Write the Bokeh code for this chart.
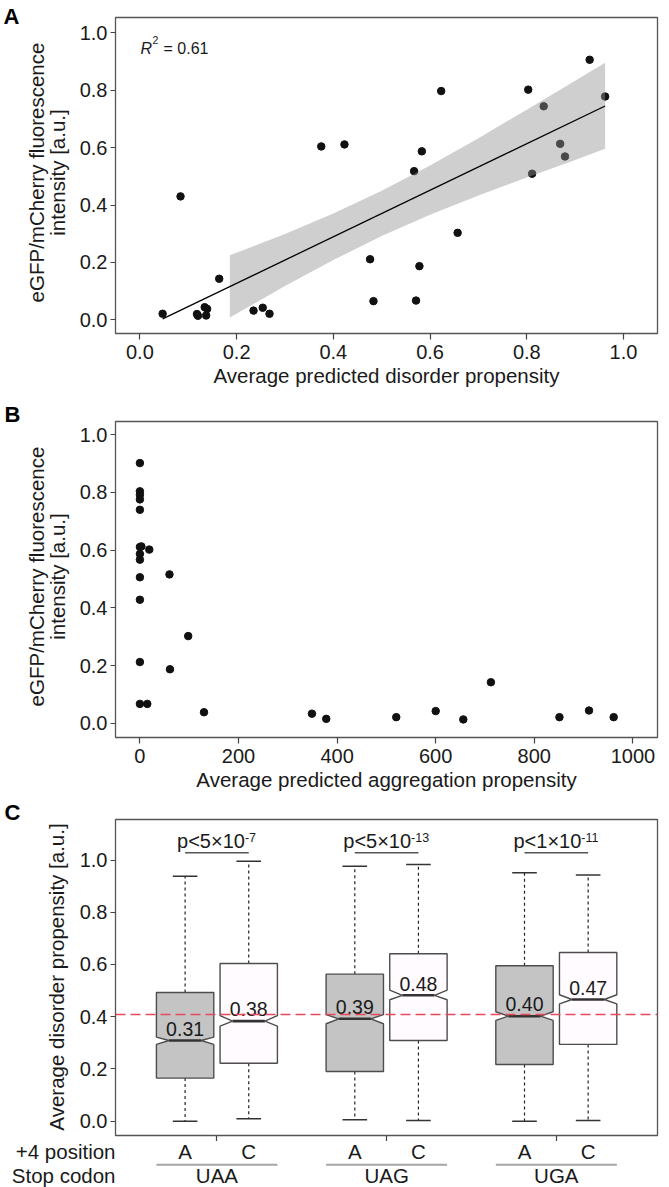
import numpy as np
from bokeh.plotting import figure
from bokeh.models import Range1d, Label, Span, FixedTicker, PrintfTickFormatter
from bokeh.layouts import column, row
from bokeh.embed import file_html
from bokeh.resources import INLINE
from bokeh.core.properties import value

FONT = "Liberation Sans"
TXT = "#1a1a1a"
MID = 0.3465  # distance (in em) from the em-box middle down to the alphabetic baseline

# ---------------- Panel A data ----------------
disorder_a = [0.047, 0.084, 0.118, 0.120, 0.134, 0.139, 0.137, 0.164, 0.235, 0.254,
              0.268, 0.375, 0.423, 0.476, 0.483, 0.567, 0.571, 0.578, 0.583, 0.623,
              0.657, 0.803, 0.811, 0.835, 0.869, 0.879, 0.930, 0.962]
fluor_a = [0.021, 0.430, 0.020, 0.014, 0.044, 0.038, 0.015, 0.143, 0.032, 0.042,
           0.021, 0.604, 0.611, 0.211, 0.065, 0.518, 0.067, 0.187, 0.587, 0.797,
           0.303, 0.802, 0.509, 0.744, 0.613, 0.569, 0.906, 0.778]
fit_x = [0.047, 0.962]
fit_y = [0.003, 0.745]
band_x = [0.186, 0.3, 0.4, 0.5, 0.6, 0.7, 0.8, 0.9, 0.962]
band_lower = [0.008, 0.118, 0.208, 0.292, 0.366, 0.433, 0.496, 0.557, 0.596]
band_upper = [0.225, 0.299, 0.370, 0.450, 0.538, 0.633, 0.732, 0.833, 0.896]
r2_value = "0.61"

# ---------------- Panel B data ----------------
aggregation_b = [0, 0, 0, 0, 0, 0, 3, 0, 0, 0, 0, 0, 0,
                 15, 19, 60, 61, 98, 130, 349, 378, 520, 600, 656, 712, 851, 911, 961]
fluor_b = [0.902, 0.804, 0.792, 0.776, 0.740, 0.611, 0.613, 0.587, 0.567, 0.506, 0.428, 0.212, 0.067,
           0.067, 0.602, 0.516, 0.187, 0.302, 0.038, 0.033, 0.015, 0.021, 0.042, 0.013, 0.142, 0.021, 0.044, 0.021]

# ---------------- Panel C data ----------------
stop_codons = ["UAA", "UAG", "UGA"]
pos4_letters = ["A", "C"]
whisker_low = [0.000, 0.009, 0.006, 0.003, 0.000, 0.003]
q1 = [0.165, 0.222, 0.190, 0.309, 0.217, 0.294]
notch_low = [0.294, 0.364, 0.373, 0.465, 0.386, 0.449]
medians = [0.309, 0.383, 0.392, 0.482, 0.402, 0.466]
notch_high = [0.322, 0.404, 0.408, 0.502, 0.419, 0.484]
q3 = [0.493, 0.604, 0.563, 0.641, 0.595, 0.646]
whisker_high = [0.938, 0.995, 0.976, 0.983, 0.951, 0.943]
median_labels = ["0.31", "0.38", "0.39", "0.48", "0.40", "0.47"]
p_base = ["p<5×10", "p<5×10", "p<1×10"]
p_exp = ["-7", "-13", "-11"]
overall_median = 0.4085

yticks = [0.0, 0.2, 0.4, 0.6, 0.8, 1.0]
STRIP_W = 75
MAIN_W = 669 - STRIP_W


def make_fig(h, top, bottom, xr, yr):
    p = figure(width=MAIN_W, height=h, x_range=Range1d(*xr), y_range=Range1d(*yr),
               output_backend="svg", toolbar_location=None, frame_align=False,
               min_border_left=40, min_border_right=12,
               min_border_top=top, min_border_bottom=bottom)
    p.title_location = None
    p.xgrid.visible = False
    p.ygrid.visible = False
    p.outline_line_color = "#555555"
    p.outline_line_width = 1.3
    p.outline_line_alpha = 1.0
    p.background_fill_color = "white"
    p.border_fill_color = "white"
    for ax in (p.xaxis[0], p.yaxis[0]):
        ax.axis_line_color = None
        ax.major_tick_line_color = "#444444"
        ax.major_tick_line_width = 1.2
        ax.major_tick_in = 0
        ax.minor_tick_line_color = None
        ax.major_label_text_font = FONT
        ax.major_label_text_font_size = "20px"
        ax.major_label_text_color = TXT
        ax.axis_label_text_font = FONT
        ax.axis_label_text_font_size = "20.5px"
        ax.axis_label_text_font_style = "normal"
        ax.axis_label_text_color = TXT
    p.xaxis.major_tick_out = 6
    p.yaxis.major_tick_out = 5
    p.xaxis.major_label_standoff = 5
    p.yaxis.major_label_standoff = 3
    p.xaxis.axis_label_standoff = 2
    return p


def make_strip(w, page_top, page_bottom, xr=None):
    xr = xr if xr is not None else (0, w)
    p = figure(width=w, height=page_bottom - page_top, x_range=Range1d(*xr),
               y_range=Range1d(-page_bottom, -page_top), x_axis_type=None, y_axis_type=None,
               output_backend="svg", toolbar_location=None, frame_align=False,
               min_border=0, min_border_left=0, min_border_right=0,
               min_border_top=0, min_border_bottom=0)
    p.title_location = None
    p.outline_line_color = None
    p.xgrid.visible = False
    p.ygrid.visible = False
    p.background_fill_color = "white"
    p.border_fill_color = "white"
    return p


def stext(p, xs, ys, texts, size=20.5, align="left", style="normal", color=TXT, vertical=False):
    """xs/ys given as page pixels of the text baseline (horizontal) or baseline x (vertical)."""
    if vertical:
        xs = [x - MID * size for x in xs]
        ang = np.pi / 2
    else:
        ys = [y - MID * size for y in ys]
        ang = 0.0
    p.text(x=xs, y=[-y for y in ys], text=texts, text_font=value(FONT),
           text_font_size=value(f"{size}px"), angle=ang, text_align=align,
           text_baseline="middle", text_font_style=style, text_color=color)


def lab(p, x, y_base_px, yconv, text, size=20.5, align="left", style="normal", x_offset=0):
    p.add_layout(Label(x=x, y=yconv(y_base_px - MID * size), text=text, text_font=FONT,
                       text_font_size=f"{size}px", text_align=align, text_baseline="middle",
                       text_font_style=style, text_color=TXT, x_offset=x_offset))


# ================= Panel A =================
ax_ = lambda px: (px - 139.4) / 483.6
ay_ = lambda py: (319.3 - py) / 287.0
pA = make_fig(400, 17, 67, (ax_(115), ax_(657)), (ay_(333), ay_(17)))
pA.xaxis.ticker = FixedTicker(ticks=yticks)
pA.yaxis.ticker = FixedTicker(ticks=yticks)
pA.xaxis.formatter = PrintfTickFormatter(format="%.1f")
pA.yaxis.formatter = PrintfTickFormatter(format="%.1f")
pA.xaxis.axis_label = "Average predicted disorder propensity"
pA.scatter(disorder_a, fluor_a, size=7.5, color="#111111")
pA.varea(x=band_x, y1=band_lower, y2=band_upper, fill_color="#929292", fill_alpha=0.44)
pA.line(fit_x, fit_y, line_color="black", line_width=1.3)
lab(pA, ax_(140), 53.3, ay_, "R", size=16, style="italic")
lab(pA, ax_(152), 43.5, ay_, "2", size=10.5)
lab(pA, ax_(163), 53.3, ay_, "= " + r2_value, size=16)

sA = make_strip(STRIP_W, 0, 400)
stext(sA, [3], [23.3], ["A"], size=22, style="bold", color="black")
stext(sA, [43.3, 64.5], [172, 172], ["eGFP/mCherry fluorescence", "intensity [a.u.]"],
      align="center", vertical=True)

# ================= Panel B =================
bx_ = lambda px: (px - 139.4) / 0.493
by_ = lambda py: (722.7 - py) / 288.4
pB = make_fig(399, 21, 62, (bx_(115), bx_(657)), (by_(737), by_(421)))
pB.xaxis.ticker = FixedTicker(ticks=[0, 200, 400, 600, 800, 1000])
pB.yaxis.ticker = FixedTicker(ticks=yticks)
pB.xaxis.formatter = PrintfTickFormatter(format="%d")
pB.yaxis.formatter = PrintfTickFormatter(format="%.1f")
pB.xaxis.axis_label = "Average predicted aggregation propensity"
pB.scatter(aggregation_b, fluor_b, size=7.5, color="#111111")

sB = make_strip(STRIP_W, 400, 799)
stext(sB, [4], [421.7], ["B"], size=22, style="bold", color="black")
stext(sB, [43.3, 64.5], [576, 576], ["eGFP/mCherry fluorescence", "intensity [a.u.]"],
      align="center", vertical=True)

# ================= Panel C =================
cx_ = lambda px: (px - 99.75) / 84.85
cy_ = lambda py: (1120.7 - py) / 261.2
pC = make_fig(342, 20, 6, (cx_(115), cx_(657)), (cy_(1135), cy_(819)))
pC.yaxis.ticker = FixedTicker(ticks=yticks)
pC.yaxis.formatter = PrintfTickFormatter(format="%.1f")
group_centers = [1.375 + 2 * g for g in range(len(stop_codons))]
pC.xaxis.ticker = FixedTicker(ticks=group_centers)
pC.xaxis.major_label_overrides = {c: "" for c in group_centers}
pC.xaxis.major_label_text_font_size = "0px"
pC.xaxis.major_label_standoff = 0

centers = [1 + 2 * g + 0.75 * k for g in range(3) for k in range(2)]
hw, nw, cw = 0.338, 0.19, 0.145
fills = ["#c4c4c4", "#fffbfe"] * 3

pC.segment(x0=centers, y0=q3, x1=centers, y1=whisker_high, line_color="#222222",
           line_width=1.2, line_dash="3 3")
pC.segment(x0=centers, y0=q1, x1=centers, y1=whisker_low, line_color="#222222",
           line_width=1.2, line_dash="3 3")
pC.segment(x0=[c - cw for c in centers], y0=whisker_high, x1=[c + cw for c in centers],
           y1=whisker_high, line_color="#333333", line_width=1.5)
pC.segment(x0=[c - cw for c in centers], y0=whisker_low, x1=[c + cw for c in centers],
           y1=whisker_low, line_color="#333333", line_width=1.5)
xs, ys = [], []
for i, c in enumerate(centers):
    xs.append([c - hw, c - hw, c - nw, c - hw, c - hw, c + hw, c + hw, c + nw, c + hw, c + hw])
    ys.append([q1[i], notch_low[i], medians[i], notch_high[i], q3[i], q3[i], notch_high[i],
               medians[i], notch_low[i], q1[i]])
pC.patches(xs, ys, fill_color=fills, line_color="#4d4d4d", line_width=1.4)
pC.segment(x0=[c - nw for c in centers], y0=medians, x1=[c + nw for c in centers], y1=medians,
           line_color="#333333", line_width=2.6)
cy_inv = lambda v: 1120.7 - v * 261.2
for i, c in enumerate(centers):
    lab(pC, c, cy_inv(medians[i]) - 5, cy_, median_labels[i], size=19.5, align="center")

sup_shift = [28, 24.5, 25]
for g, gc in enumerate(group_centers):
    pC.segment(x0=[centers[2 * g]], y0=[cy_(852.3)], x1=[centers[2 * g + 1]], y1=[cy_(852.3)],
               line_color="#555555", line_width=1.5)
    lab(pC, gc, 847.3, cy_, p_base[g], size=20, align="right", x_offset=sup_shift[g])
    lab(pC, gc, 841.7, cy_, p_exp[g], size=12.5, align="left", x_offset=sup_shift[g])

pC.add_layout(Span(location=overall_median, dimension="width", line_color="#e8485a",
                   line_dash="10 5", line_width=1.4))

sC = make_strip(STRIP_W, 799, 1141)
stext(sC, [4], [820], ["C"], size=22, style="bold", color="black")
stext(sC, [63], [976.5], ["Average disorder propensity [a.u.]"], align="center", vertical=True)

# bottom category rows (same x scale as panel C)
sBot = make_strip(669, 1141, 1187, xr=(cx_(0), cx_(669)))
stext(sBot, [cx_(115), cx_(115)], [1158, 1182], ["+4 position", "Stop codon"], align="right")
stext(sBot, centers, [1158] * len(centers), [pos4_letters[i % 2] for i in range(len(centers))],
      align="center")
stext(sBot, group_centers, [1182] * len(group_centers), stop_codons, align="center")
sBot.segment(x0=[centers[2 * g] - hw for g in range(3)], y0=[-1164.3] * 3,
             x1=[centers[2 * g + 1] + hw for g in range(3)], y1=[-1164.3] * 3,
             line_color="#a6a6a6", line_width=2)

layout = column(row(sA, pA), row(sB, pB), row(sC, pC), sBot)
open("out.html", "w").write(file_html(layout, INLINE))
